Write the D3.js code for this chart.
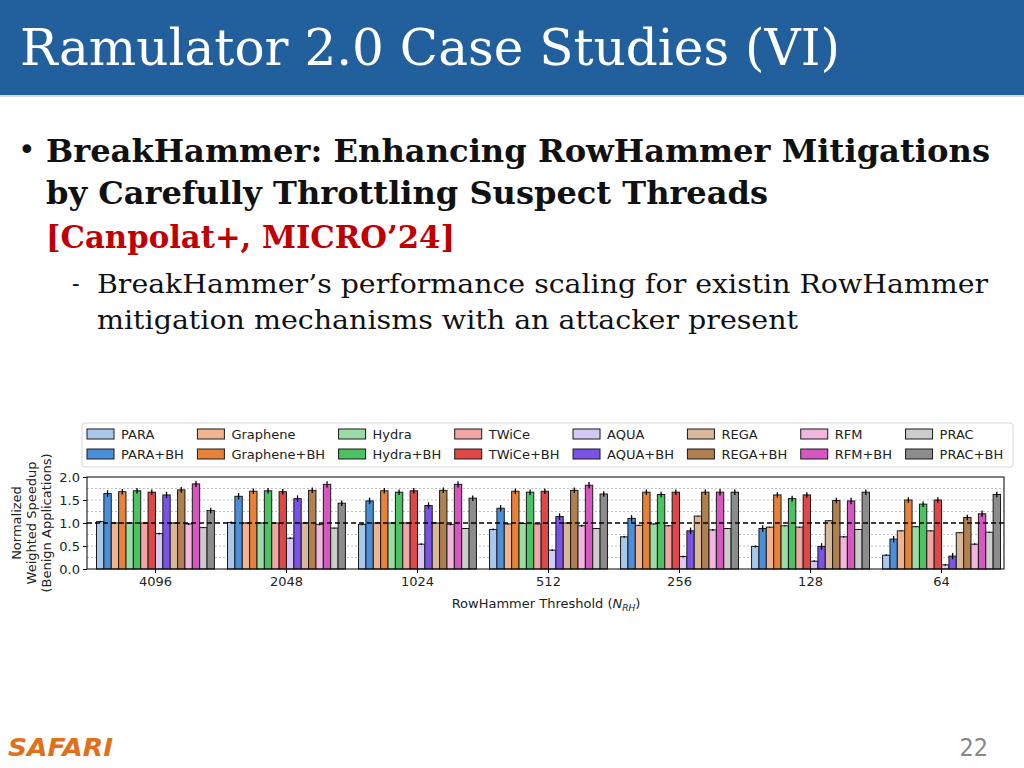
<!DOCTYPE html>
<html><head><meta charset="utf-8">
<script src="https://cdn.jsdelivr.net/npm/d3@7"></script>
<style>body{margin:0;background:#fff}svg{display:block}</style>
</head><body>
<svg id="s" width="1024" height="768"></svg>
<script>
const groups = ["4096","2048","1024","512","256","128","64"];
const seriesNames = ["PARA","PARA+BH","Graphene","Graphene+BH","Hydra","Hydra+BH","TWiCe","TWiCe+BH","AQUA","AQUA+BH","REGA","REGA+BH","RFM","RFM+BH","PRAC","PRAC+BH"];
const seriesColors = ["#a9c8ee","#4a8fd8","#f2b48e","#e8823a","#99dca6","#4cc263","#f2a5a5","#e04848","#d4c8f4","#7b52e6","#d8b898","#b08050","#f0b6e0","#d657c0","#cccccc","#8c8c8c"];
const PARA        = [1.03,1.01,0.97,0.86,0.70,0.49,0.30];
const PARA_BH     = [1.64,1.58,1.48,1.32,1.10,0.88,0.65];
const Graphene    = [1.00,1.00,1.00,0.98,0.95,0.91,0.83];
const Graphene_BH = [1.68,1.69,1.70,1.69,1.67,1.61,1.50];
const Hydra       = [1.00,1.00,1.00,0.99,0.98,0.94,0.92];
const Hydra_BH    = [1.70,1.70,1.67,1.67,1.62,1.53,1.41];
const TWiCe       = [1.00,1.00,1.00,0.98,0.94,0.91,0.83];
const TWiCe_BH    = [1.67,1.68,1.70,1.69,1.67,1.61,1.50];
const AQUA        = [0.77,0.67,0.54,0.41,0.27,0.17,0.09];
const AQUA_BH     = [1.61,1.53,1.38,1.14,0.83,0.49,0.28];
const REGA        = [1.00,1.00,1.00,1.00,1.15,1.05,0.79];
const REGA_BH     = [1.72,1.71,1.71,1.71,1.67,1.49,1.12];
const RFM         = [0.98,0.97,0.97,0.94,0.85,0.70,0.54];
const RFM_BH      = [1.85,1.84,1.84,1.82,1.67,1.48,1.20];
const PRAC        = [0.90,0.89,0.88,0.88,0.88,0.86,0.80];
const PRAC_BH     = [1.27,1.43,1.54,1.63,1.67,1.67,1.62];
const seriesValues = [PARA,PARA_BH,Graphene,Graphene_BH,Hydra,Hydra_BH,TWiCe,TWiCe_BH,AQUA,AQUA_BH,REGA,REGA_BH,RFM,RFM_BH,PRAC,PRAC_BH];
const seriesErr = [0.02,0.07,0.01,0.06,0.01,0.06,0.01,0.06,0.02,0.07,0.01,0.06,0.02,0.07,0.01,0.06];
const yTicks = [0,0.5,1.0,1.5,2.0];
const yGrid = [0.25,0.5,0.75,1.25,1.5,1.75];

const svg = d3.select("#s");

// Header
svg.append("rect").attr("x",0).attr("y",0).attr("width",1024).attr("height",95).attr("fill","#21609c");
svg.append("rect").attr("x",0).attr("y",95).attr("width",1024).attr("height",2).attr("fill","#d6dde6");
svg.append("text").attr("x",20).attr("y",65).attr("fill","#fff")
  .style("font-family","'DejaVu Serif Condensed','DejaVu Serif',serif").style("font-size","50px")
  .attr("textLength",820).attr("lengthAdjust","spacingAndGlyphs")
  .text("Ramulator 2.0 Case Studies (VI)");

// Body text
const serifB = "'DejaVu Serif Condensed','DejaVu Serif',serif";
svg.append("text").attr("x",18).attr("y",160).attr("fill","#111").style("font-family","'DejaVu Sans'").style("font-size","30px").text("•");
function line(x,y,t,w,size,weight,color){
  svg.append("text").attr("x",x).attr("y",y).attr("fill",color)
    .style("font-family",serifB).style("font-size",size+"px").style("font-weight",weight)
    .attr("textLength",w).attr("lengthAdjust","spacingAndGlyphs").text(t);
}
line(46,162,"BreakHammer: Enhancing RowHammer Mitigations",944,31,"bold","#111");
line(46,204,"by Carefully Throttling Suspect Threads",722,31,"bold","#111");
line(46,248,"[Canpolat+, MICRO’24]",409,31,"bold","#c00000");
svg.append("text").attr("x",72).attr("y",292).attr("fill","#111").style("font-family",serifB).style("font-size","25px").text("-");
line(97,293,"BreakHammer’s performance scaling for existin RowHammer",891,26,"normal","#111");
line(97,329,"mitigation mechanisms with an attacker present",701,26,"normal","#111");

// Footer
svg.append("text").attr("x",8).attr("y",756).attr("fill","#e0701a")
  .style("font-family","'DejaVu Sans'").style("font-size","25px").style("font-weight","bold").style("font-style","italic")
  .attr("textLength",105).attr("lengthAdjust","spacingAndGlyphs").text("SAFARI");
svg.append("text").attr("x",988).attr("y",756).attr("text-anchor","end").attr("fill","#888")
  .style("font-family","'DejaVu Sans Condensed','DejaVu Sans'").style("font-size","25px").style("font-weight","300")
  .text("22");

// Chart
const L=87, R=1004, T=477, B=569;
const font = "'DejaVu Sans',sans-serif";
const y = d3.scaleLinear().domain([0,2]).range([B,T]);
const x0 = d3.scaleBand().domain(groups).range([96.5,1000.5]).paddingInner(0.1).paddingOuter(0);
const x1 = d3.scaleBand().domain(seriesNames).range([0,x0.bandwidth()]).padding(0);
const g = svg.append("g");

// grid
g.selectAll(".grid").data(yGrid).join("line")
  .attr("x1",L).attr("x2",R).attr("y1",d=>y(d)).attr("y2",d=>y(d))
  .attr("stroke","#b0b0b0").attr("stroke-width",0.8).attr("stroke-dasharray","2,2");

// bars
const gg = g.selectAll(".grp").data(groups).join("g").attr("transform",d=>`translate(${x0(d)},0)`);
gg.each(function(grp,gi){
  const sel = d3.select(this);
  seriesNames.forEach((s,si)=>{
    const v = seriesValues[si][gi];
    sel.append("rect").attr("x",x1(s)).attr("width",x1.bandwidth())
      .attr("y",y(v)).attr("height",y(0)-y(v))
      .attr("fill",seriesColors[si]).attr("stroke","#1a1a1a").attr("stroke-width",1);
  });
  seriesNames.forEach((s,si)=>{
    const v = seriesValues[si][gi], e = seriesErr[si];
    const cx = x1(s)+x1.bandwidth()/2;
    sel.append("line").attr("x1",cx).attr("x2",cx).attr("y1",y(v-e)).attr("y2",y(v+e))
      .attr("stroke","#000").attr("stroke-width",1.3);
  });
});

// reference line
g.append("line").attr("x1",L).attr("x2",R).attr("y1",y(1)).attr("y2",y(1))
  .attr("stroke","#000").attr("stroke-width",1.5).attr("stroke-dasharray","5,3");

// frame
g.append("rect").attr("x",L).attr("y",T).attr("width",R-L).attr("height",B-T)
  .attr("fill","none").attr("stroke","#000").attr("stroke-width",1);

// axes
const ya = d3.axisLeft(y).tickValues(yTicks).tickFormat(d3.format(".1f")).tickSize(4).tickPadding(3);
const yg = svg.append("g").attr("transform",`translate(${L},0)`).call(ya);
yg.select(".domain").remove();
yg.selectAll("text").style("font-family",font).style("font-size","13px").attr("fill","#222");
const xa = d3.axisBottom(x0).tickSize(4).tickPadding(4);
const xg = svg.append("g").attr("transform",`translate(0,${B})`).call(xa);
xg.select(".domain").remove();
xg.selectAll("text").style("font-family",font).style("font-size","13px").attr("fill","#222");

// axis labels
const xl = svg.append("text").attr("x",546).attr("y",608).attr("text-anchor","middle")
  .style("font-family",font).style("font-size","13px").attr("fill","#222");
xl.append("tspan").text("RowHammer Threshold (");
xl.append("tspan").style("font-style","italic").text("N");
xl.append("tspan").style("font-style","italic").style("font-size","9px").attr("dy",3).text("RH");
xl.append("tspan").attr("dy",-3).text(")");
const ylab = ["Normalized","Weighted Speedup","(Benign Applications)"];
ylab.forEach((t,i)=>{
  svg.append("text").attr("transform",`translate(${21+i*15},${523}) rotate(-90)`).attr("text-anchor","middle")
    .style("font-family",font).style("font-size","13px").attr("fill","#222").text(t);
});

// legend
const lg = svg.append("g");
lg.append("rect").attr("x",82).attr("y",423).attr("width",931).attr("height",44).attr("rx",3)
  .attr("fill","#fff").attr("stroke","#d8d8d8").attr("stroke-width",1);
const meas = svg.append("text").style("font-family",font).style("font-size","13px");
let cx = 87;
for(let c=0;c<8;c++){
  let wmax=0;
  [0,1].forEach(r=>{
    const si=c*2+r;
    meas.text(seriesNames[si]);
    wmax=Math.max(wmax,meas.node().getComputedTextLength());
    const ry = 434+r*20;
    lg.append("rect").attr("x",cx).attr("y",ry-5).attr("width",27).attr("height",10)
      .attr("fill",seriesColors[si]).attr("stroke","#1a1a1a").attr("stroke-width",1);
    lg.append("text").attr("x",cx+34).attr("y",ry).attr("dy","0.35em")
      .style("font-family",font).style("font-size","13px").attr("fill","#222").text(seriesNames[si]);
  });
  cx += 34 + wmax + 13.5;
}
meas.remove();
</script>
</body></html>
